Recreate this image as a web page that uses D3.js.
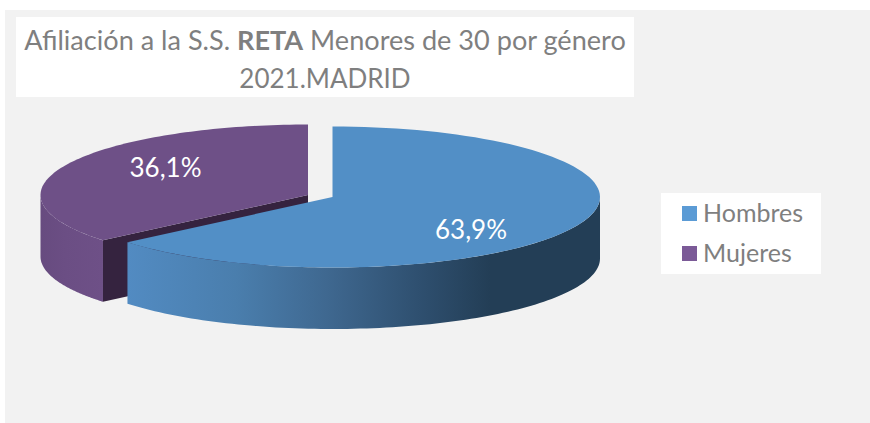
<!DOCTYPE html>
<html lang="es">
<head>
<meta charset="utf-8">
<script src="https://cdn.jsdelivr.net/npm/d3@7/dist/d3.min.js"></script>
<style>
html,body{margin:0;padding:0;background:#fff;overflow:hidden}
svg{display:block}
text{font-family:Lato,"Open Sans",sans-serif}
</style>
</head>
<body>
<div id="chart"></div>
<script>
const categories = ["Hombres", "Mujeres"];
const values = [63.9, 36.1];
const valueLabels = ["63,9%", "36,1%"];
const topColors = ["#528fc6", "#6e5087"];
const swatchColors = ["#5b9bd5", "#7b5a97"];
const titleLine1 = [["Afiliación a la S.S. ", 400], ["RETA", 700], [" Menores de 30 por género", 400]];
const titleLine2 = "2021.MADRID";

const W = 870, H = 423;
const svg = d3.select("#chart").append("svg").attr("width", W).attr("height", H);

svg.append("rect").attr("x", 5).attr("y", 10).attr("width", W - 5).attr("height", H - 10).attr("fill", "#f2f2f2");

// Wall gradients
const defs = svg.append("defs");
const grad = defs.append("linearGradient").attr("id", "blueWall")
  .attr("gradientUnits", "userSpaceOnUse").attr("x1", 127).attr("x2", 490).attr("y1", 0).attr("y2", 0);
[[0, "#528bc2"], [0.3, "#4a7ead"], [0.55, "#3f6890"], [0.8, "#2f5070"], [1, "#233e56"]]
  .forEach(([o, c]) => grad.append("stop").attr("offset", o).attr("stop-color", c));
const gradP = defs.append("linearGradient").attr("id", "purpleWall")
  .attr("gradientUnits", "userSpaceOnUse").attr("x1", 40).attr("x2", 103).attr("y1", 0).attr("y2", 0);
[[0, "#674b7f"], [0.4, "#6b4e84"], [1, "#6e5087"]]
  .forEach(([o, c]) => gradP.append("stop").attr("offset", o).attr("stop-color", c));

// Scales from unit-circle space to the tilted pie's screen space
const rx = 267.5, ry = 70.5, depth = 61.5;
const centers = [[332.5, 197], [308, 195]];
const sx = i => d3.scaleLinear().domain([-1, 1]).range([centers[i][0] - rx, centers[i][0] + rx]);
const sy = i => d3.scaleLinear().domain([-1, 1]).range([centers[i][1] - ry, centers[i][1] + ry]);

const arcs = d3.pie().sort(null).value(d => d)(values);

const pt = (i, a, dz = 0) => [sx(i)(Math.sin(a)), sy(i)(-Math.cos(a)) + dz];
const arcPts = (i, a0, a1, dz = 0) => d3.range(0, 101).map(k => pt(i, a0 + (a1 - a0) * k / 100, dz));
const line = d3.line();

function wall(i, a0, a1) {
  const lo = Math.max(a0, Math.PI / 2), hi = Math.min(a1, 3 * Math.PI / 2);
  if (hi <= lo) return null;
  return line(arcPts(i, lo, hi).concat(arcPts(i, hi, lo, depth))) + "Z";
}

const g = svg.append("g");
const m = arcs[1], h = arcs[0];
// Mujeres (rear slice) first
g.append("path").attr("d", wall(1, m.startAngle, m.endAngle)).attr("fill", "url(#purpleWall)");
const c1 = [sx(1)(0), sy(1)(0)];
const e1 = pt(1, m.startAngle);
g.append("path")
  .attr("d", line([c1, e1, [e1[0], e1[1] + depth], [c1[0], c1[1] + depth]]) + "Z")
  .attr("fill", "#35233f");
g.append("path").attr("d", line([c1].concat(arcPts(1, m.startAngle, m.endAngle))) + "Z")
  .attr("fill", topColors[1]);
// Hombres
g.append("path").attr("d", wall(0, h.startAngle, h.endAngle)).attr("fill", "url(#blueWall)");
g.append("path").attr("d", line([[sx(0)(0), sy(0)(0)]].concat(arcPts(0, h.startAngle, h.endAngle))) + "Z")
  .attr("fill", topColors[0]);

// Data labels
const labelPos = [[471, 230], [165.5, 168]];
valueLabels.forEach((t, i) => {
  g.append("text").attr("x", labelPos[i][0]).attr("y", labelPos[i][1] + 9)
    .attr("text-anchor", "middle").attr("fill", "#fff").attr("font-size", 26).text(t);
});

// Title
svg.append("rect").attr("x", 16).attr("y", 17).attr("width", 618).attr("height", 80).attr("fill", "#fff");
const tt = svg.append("text").attr("x", 325).attr("y", 50).attr("text-anchor", "middle")
  .attr("fill", "#7f7f7f").attr("font-size", 27.1);
titleLine1.forEach(([s, w]) => tt.append("tspan").attr("font-weight", w).style("white-space", "pre").text(s));
svg.append("text").attr("x", 325).attr("y", 88).attr("text-anchor", "middle")
  .attr("fill", "#7f7f7f").attr("font-size", 26).text(titleLine2);

// Legend
svg.append("rect").attr("x", 661).attr("y", 193).attr("width", 160).attr("height", 81).attr("fill", "#fff");
const ly = d3.scalePoint().domain(categories).range([206, 246]);
categories.forEach((c, i) => {
  svg.append("rect").attr("x", 682).attr("y", ly(c)).attr("width", 15).attr("height", 15).attr("fill", swatchColors[i]);
  svg.append("text").attr("x", 703).attr("y", ly(c) + 15.5).attr("fill", "#7f7f7f").attr("font-size", 25).text(c);
});
</script>
</body>
</html>
